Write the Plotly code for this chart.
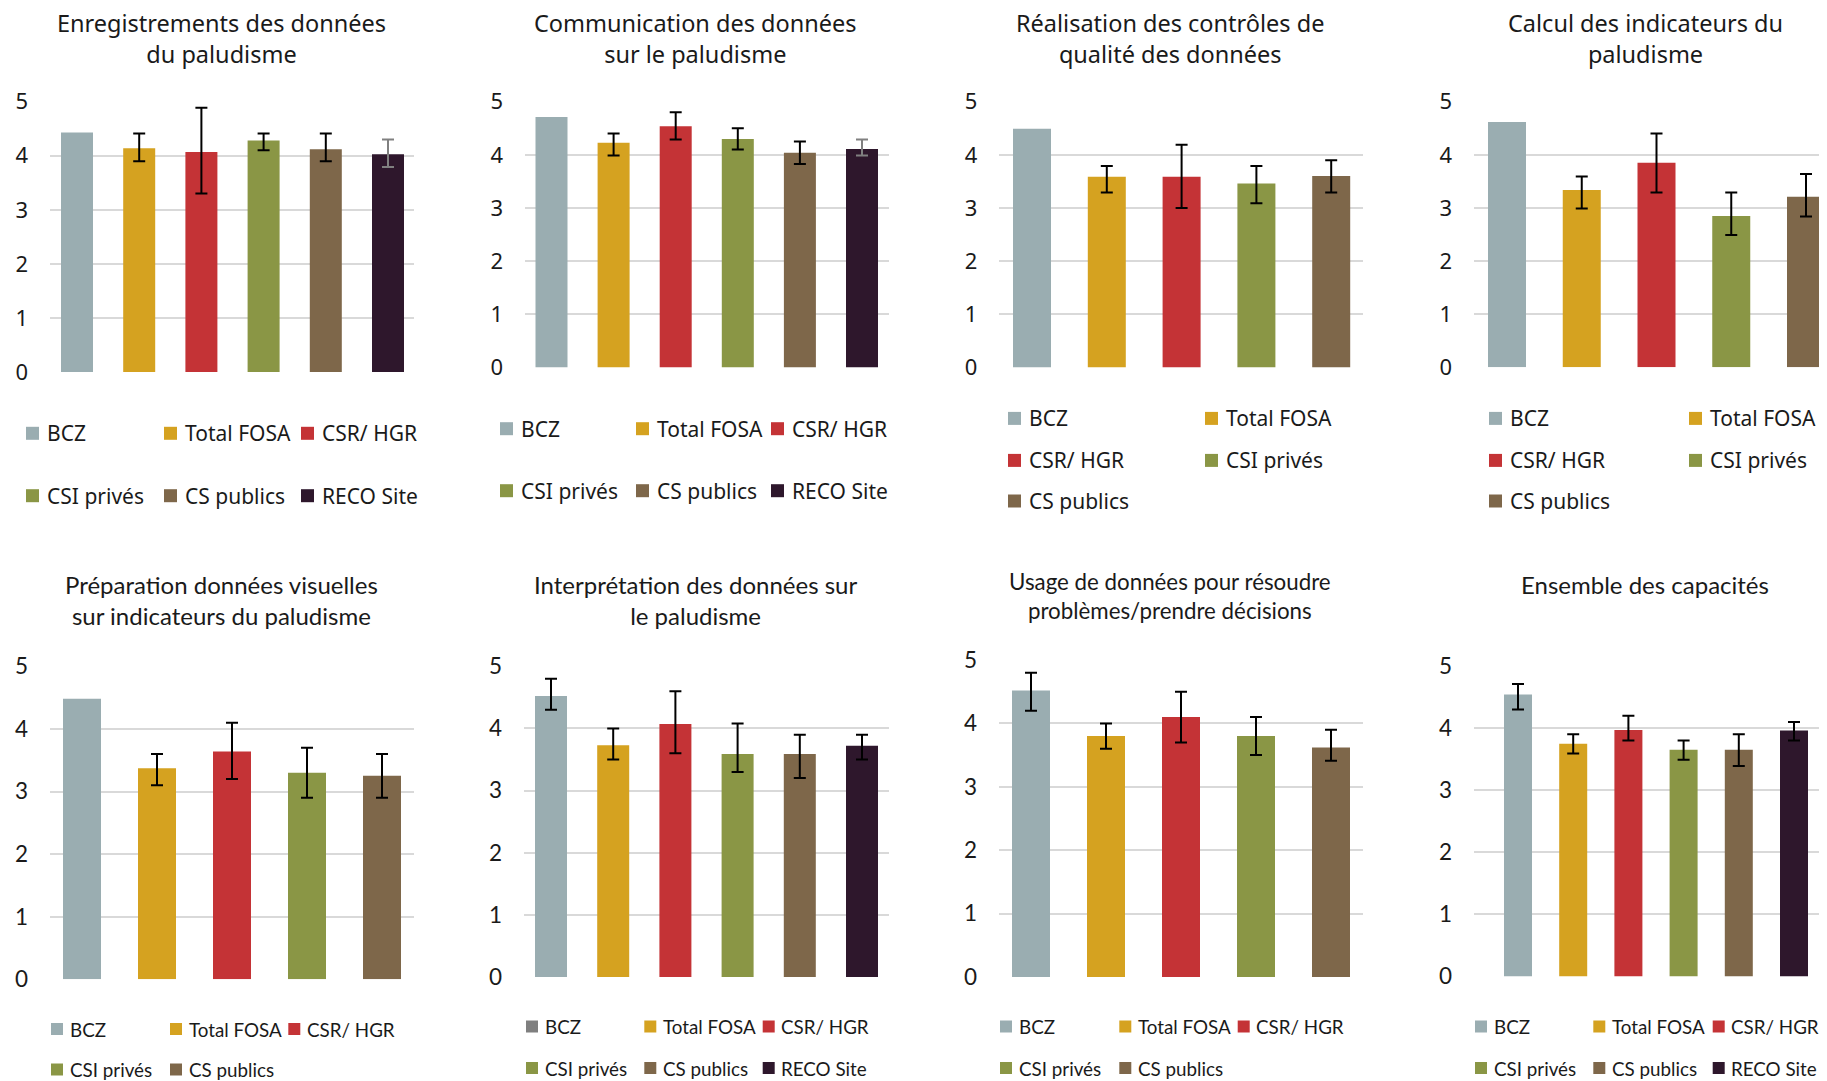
"""Capacités paludisme : 8 panneaux de barres avec intervalles"""
import plotly.graph_objects as go

W, H = 1827, 1081
PAD = 8  # default body margin of the html page
FW, FH = W - PAD, H - PAD

# ---- data -------------------------------------------------------------
groups = ["BCZ", "Total FOSA", "CSR/ HGR", "CSI privés", "CS publics", "RECO Site"]
group_colors = ["#9AADB1", "#D5A220", "#C43336", "#8A9645", "#7E674A", "#2E172C"]

titles = [
    ["Enregistrements des données", "du paludisme"],
    ["Communication des données", "sur le paludisme"],
    ["Réalisation des contrôles de", "qualité des données"],
    ["Calcul des indicateurs du", "paludisme"],
    ["Préparation données visuelles", "sur indicateurs du paludisme"],
    ["Interprétation des données sur", "le paludisme"],
    ["Usage de données pour résoudre", "problèmes/prendre décisions"],
    ["Ensemble des capacités"],
]

# mean score, upper and lower bound of the interval (None = no error bar)
enreg_vals = [4.43, 4.14, 4.07, 4.28, 4.12, 4.03]
enreg_hi = [None, 4.41, 4.89, 4.41, 4.41, 4.30]
enreg_lo = [None, 3.90, 3.30, 4.10, 3.90, 3.79]

comm_vals = [4.71, 4.23, 4.54, 4.30, 4.04, 4.11]
comm_hi = [None, 4.40, 4.80, 4.50, 4.25, 4.29]
comm_lo = [None, 3.99, 4.29, 4.10, 3.83, 3.99]

ctrl_vals = [4.49, 3.59, 3.59, 3.46, 3.60]
ctrl_hi = [None, 3.79, 4.19, 3.79, 3.90]
ctrl_lo = [None, 3.29, 3.00, 3.09, 3.29]

calc_vals = [4.62, 3.34, 3.85, 2.85, 3.21]
calc_hi = [None, 3.59, 4.40, 3.29, 3.64]
calc_lo = [None, 2.99, 3.29, 2.49, 2.84]

prep_vals = [4.48, 3.37, 3.64, 3.30, 3.25]
prep_hi = [None, 3.60, 4.10, 3.70, 3.60]
prep_lo = [None, 3.10, 3.20, 2.90, 2.90]

interp_vals = [4.52, 3.73, 4.07, 3.59, 3.59, 3.72]
interp_hi = [4.80, 4.00, 4.60, 4.08, 3.90, 3.90]
interp_lo = [4.30, 3.50, 3.60, 3.30, 3.20, 3.50]

usage_vals = [4.52, 3.80, 4.10, 3.80, 3.62]
usage_hi = [4.80, 4.00, 4.50, 4.10, 3.90]
usage_lo = [4.20, 3.60, 3.70, 3.50, 3.41]

ens_vals = [4.54, 3.75, 3.97, 3.65, 3.65, 3.96]
ens_hi = [4.71, 3.90, 4.20, 3.80, 3.90, 4.10]
ens_lo = [4.30, 3.59, 3.80, 3.49, 3.39, 3.80]

y_ticks = [0, 1, 2, 3, 4, 5]

# ---- layout of the panels (pixels in the 1827x1081 page) ---------------
TOP = dict(family="Noto Sans", title=23.5, tick=22, legend=21, sq=13, txt_dx=19, standoff=21)
BOT = dict(family="Lato", title=24, tick=22.5, legend=18.8, sq=12, txt_dx=16.5, standoff=21)

panels = [
    dict(data=(enreg_vals, enreg_hi, enreg_lo), box=(50, 414.3, 101.7, 372), c0=77, step=62.2, bw=32,
         style=TOP, title_x=221, title_y=38, leg_x=[26, 164, 301], leg_y=[433.3, 495.7],
         reco_err="#808080"),
    dict(data=(comm_vals, comm_hi, comm_lo), box=(525, 889, 101.7, 367.5), c0=551.5, step=62.1, bw=32,
         style=TOP, title_x=695, title_y=38, leg_x=[500, 636, 771], leg_y=[428.7, 490.7],
         reco_err="#808080"),
    dict(data=(ctrl_vals, ctrl_hi, ctrl_lo), box=(999.3, 1363.3, 101.7, 367.5), c0=1032, step=74.8, bw=38,
         style=TOP, title_x=1170, title_y=38, leg_x=[1008, 1205], leg_y=[418.4, 460.4, 501]),
    dict(data=(calc_vals, calc_hi, calc_lo), box=(1474, 1827, 101.7, 367.3), c0=1507, step=74.75, bw=38,
         style=TOP, title_x=1645, title_y=38, leg_x=[1489, 1689], leg_y=[418.4, 460.4, 501]),
    dict(data=(prep_vals, prep_hi, prep_lo), box=(50, 414.3, 666.3, 979.3), c0=82, step=75, bw=38,
         style=BOT, title_x=221, title_y=600, leg_x=[51, 170, 288.3], leg_y=[1029, 1069.5]),
    dict(data=(interp_vals, interp_hi, interp_lo), box=(524, 889, 666.3, 976.9), c0=551, step=62.2, bw=32,
         style=BOT, title_x=695, title_y=600, leg_x=[526, 644.3, 762.7], leg_y=[1026.5, 1068],
         leg_override={0: "#7F7F7F"}),
    dict(data=(usage_vals, usage_hi, usage_lo), box=(999, 1363.3, 660, 977), c0=1031, step=75, bw=38,
         style=BOT, title_x=1170, title_y=596, title_scale=0.93,
         leg_x=[1000, 1119.3, 1237.7], leg_y=[1026.5, 1068]),
    dict(data=(ens_vals, ens_hi, ens_lo), box=(1474, 1827, 666, 976.5), c0=1518, step=55.2, bw=28,
         style=BOT, title_x=1645, title_y=584.4, leg_x=[1475, 1593.3, 1712.7], leg_y=[1026.5, 1068]),
]


def fx(x):
    return (x - PAD) / FW


def fy(y):
    return 1 - (y - PAD) / FH


fig = go.Figure()
shapes, annotations = [], []
TEXT = "#1a1a1a"

for k, (p, title) in enumerate(zip(panels, titles), start=1):
    vals, hi, lo = p["data"]
    st = p["style"]
    xname, yname = ("x", "y") if k == 1 else (f"x{k}", f"y{k}")
    left, right, y5, y0 = p["box"]

    # bars, one trace per group so each keeps its own error bar colour
    for i, v in enumerate(vals):
        err = None
        if hi[i] is not None:
            ecol = p.get("reco_err", "#000000") if i == 5 else "#000000"
            err = dict(type="data", symmetric=False, array=[hi[i] - v], arrayminus=[v - lo[i]],
                       color=ecol, thickness=2, width=6)
        fig.add_trace(go.Bar(
            x=[i], y=[v], width=p["bw"] / p["step"],
            marker=dict(color=group_colors[i], line=dict(width=0)),
            error_y=err, name=groups[i], showlegend=False,
            xaxis=xname, yaxis=yname,
        ))

    fig.layout[f"xaxis{'' if k == 1 else k}"] = dict(
        domain=[fx(left), min(fx(right), 1)],
        range=[(left - p["c0"]) / p["step"], (right - p["c0"]) / p["step"]],
        showgrid=False, zeroline=False, showticklabels=False, showline=False, ticks="",
        anchor=yname, fixedrange=True,
    )
    fig.layout[f"yaxis{'' if k == 1 else k}"] = dict(
        domain=[fy(y0), fy(y5)], range=[0, 5], tickvals=y_ticks,
        showgrid=True, gridcolor="#D9D9D9", gridwidth=1.6,
        zeroline=False, showline=False, ticks="",
        tickfont=dict(family=st["family"], size=st["tick"], color=TEXT),
        ticklabelstandoff=st["standoff"], anchor=xname, fixedrange=True,
    )

    # title
    tsize = st["title"] * p.get("title_scale", 1)
    annotations.append(dict(
        text="<br>".join(title), x=fx(p["title_x"]), y=fy(p["title_y"]),
        xref="paper", yref="paper", xanchor="center", yanchor="middle", showarrow=False,
        font=dict(family=st["family"], size=tsize, color=TEXT),
    ))

    # legend drawn by hand, Excel style grid
    ncol = len(p["leg_x"])
    for i in range(len(vals)):
        lx = p["leg_x"][i % ncol]
        ly = p["leg_y"][i // ncol]
        col = p.get("leg_override", {}).get(i, group_colors[i])
        h = st["sq"] / 2
        shapes.append(dict(
            type="rect", xref="paper", yref="paper",
            x0=fx(lx), x1=fx(lx + st["sq"]), y0=fy(ly + h), y1=fy(ly - h),
            fillcolor=col, line=dict(width=0),
        ))
        annotations.append(dict(
            text=groups[i], x=fx(lx + st["txt_dx"]), y=fy(ly), xref="paper", yref="paper",
            xanchor="left", yanchor="middle", showarrow=False,
            font=dict(family=st["family"], size=st["legend"], color=TEXT),
        ))

fig.update_layout(
    width=FW, height=FH, template="none",
    margin=dict(l=0, r=0, t=0, b=0),
    paper_bgcolor="white", plot_bgcolor="white",
    barmode="overlay", showlegend=False,
    shapes=shapes, annotations=annotations,
)

fig.write_html("out.html")
